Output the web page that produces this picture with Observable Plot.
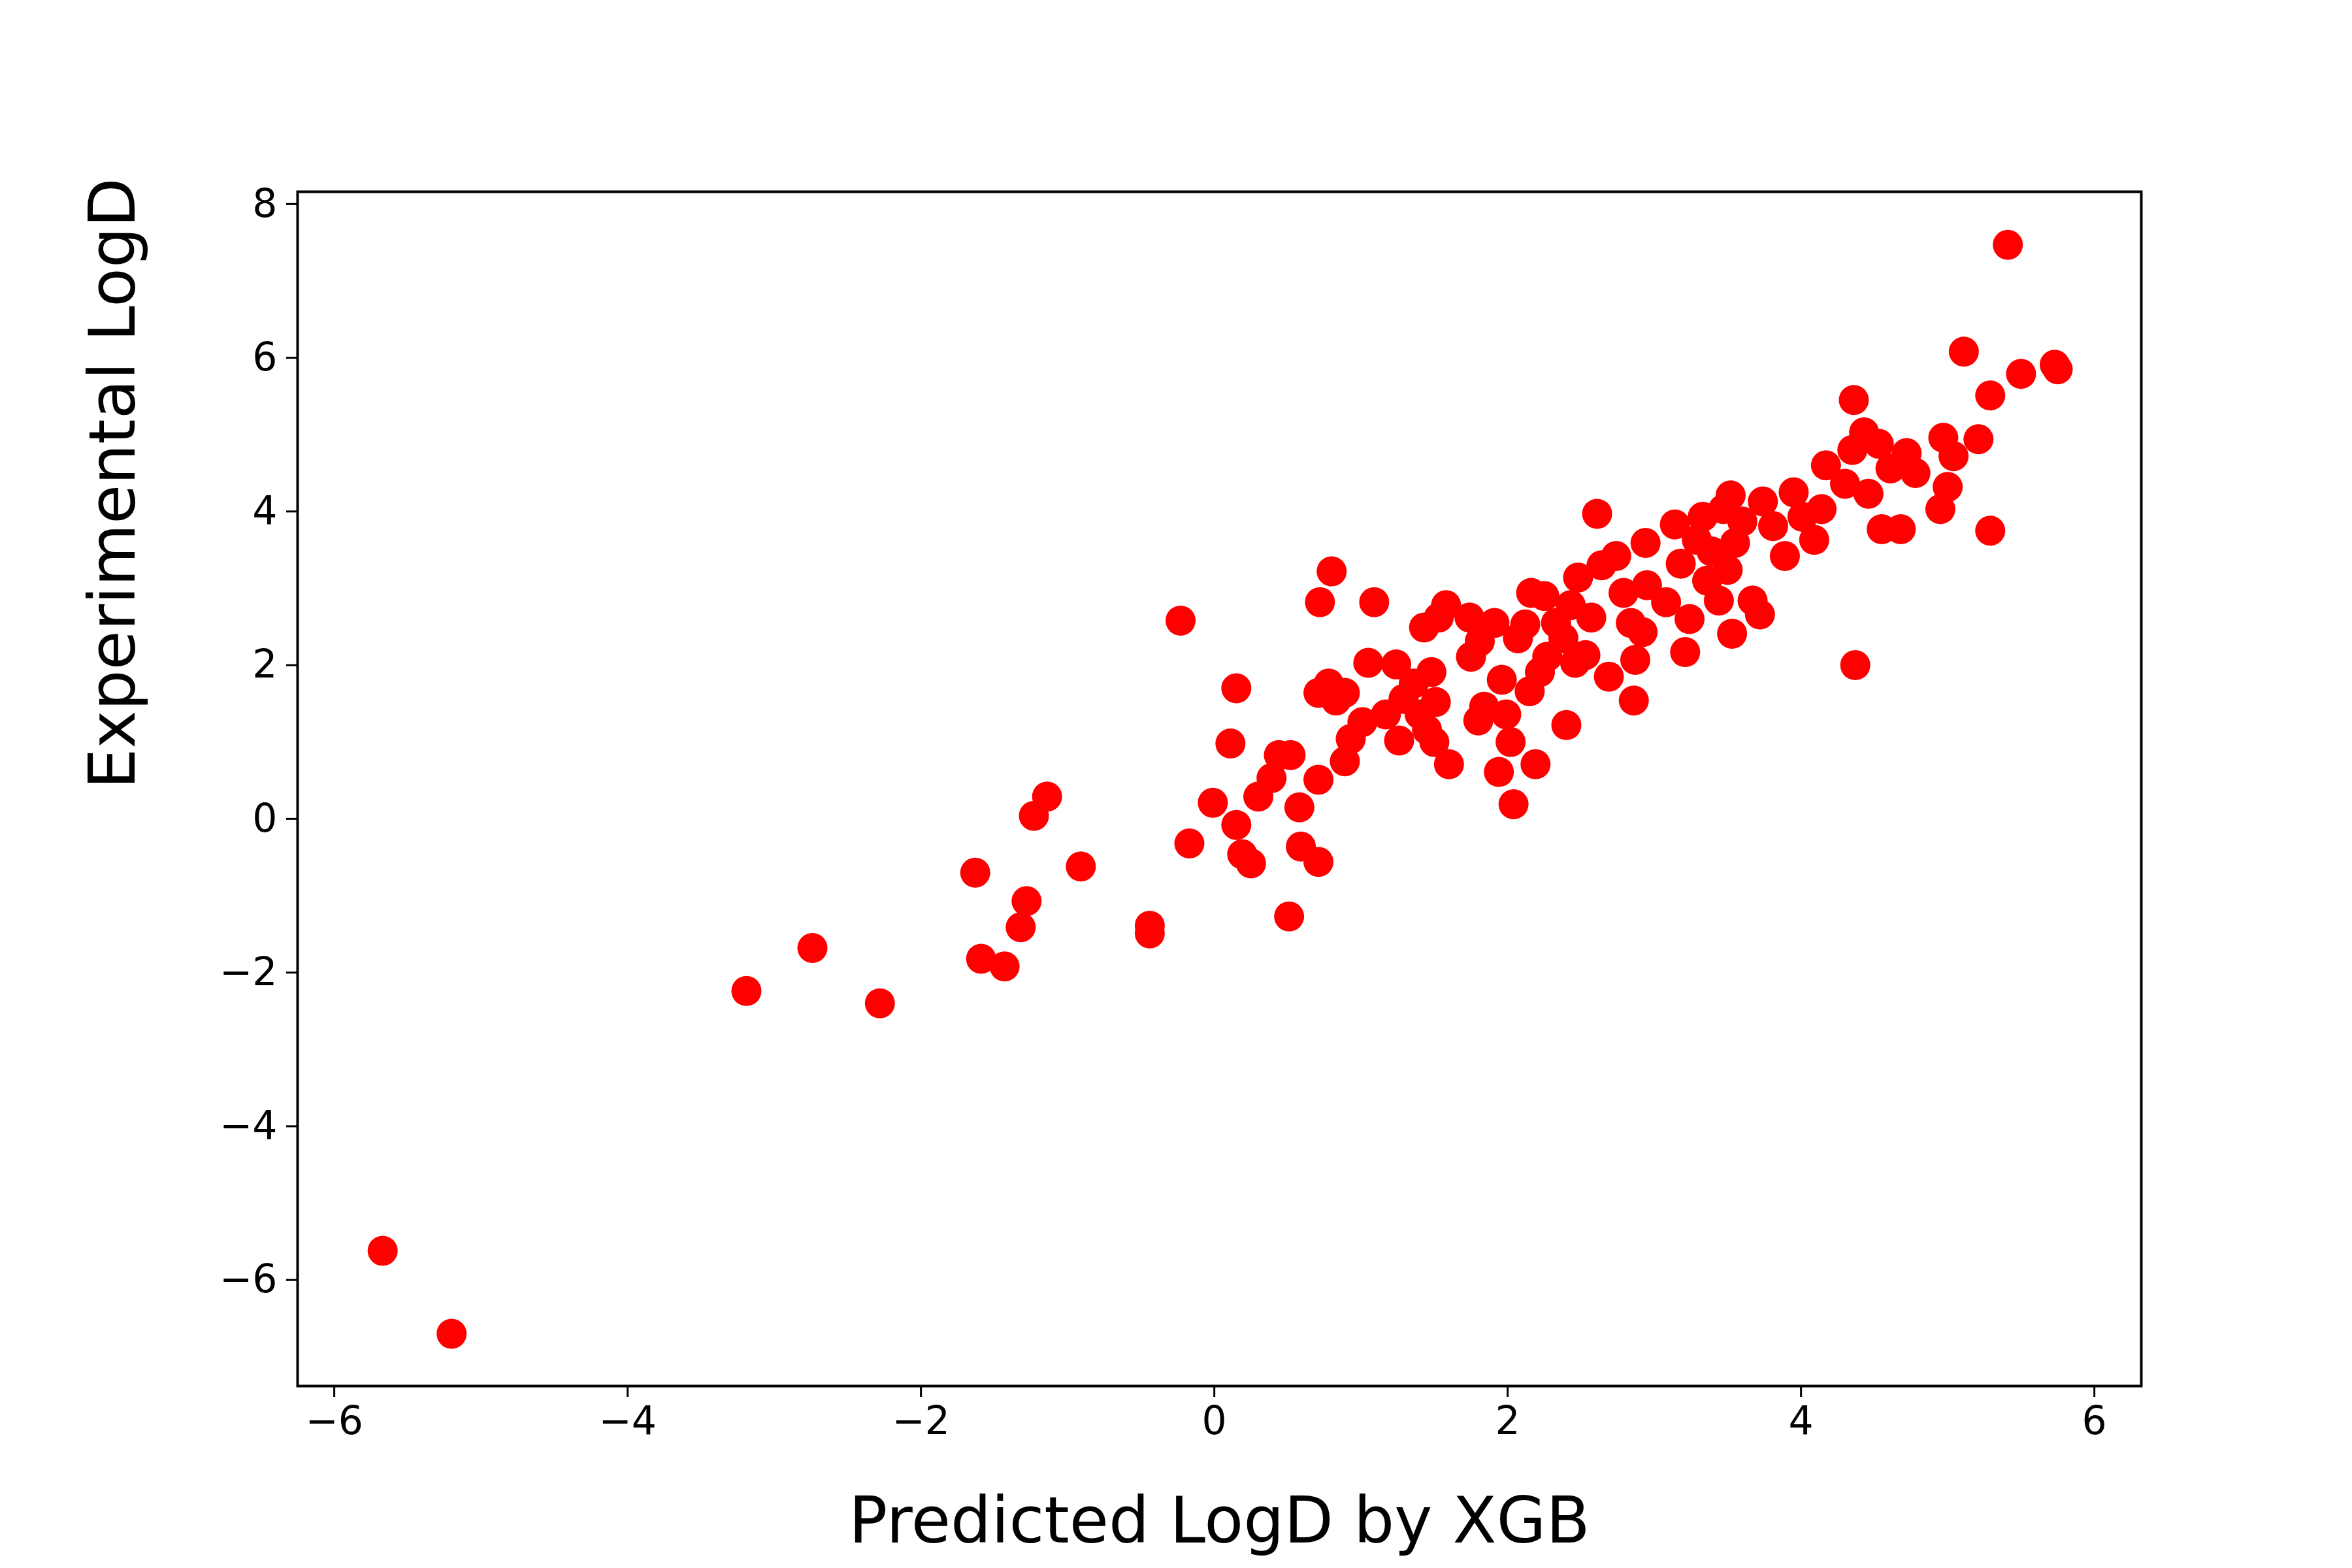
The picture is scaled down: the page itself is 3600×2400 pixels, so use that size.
<!DOCTYPE html>
<html>
<head>
<meta charset="utf-8">
<script src="https://cdn.jsdelivr.net/npm/d3@7"></script>
<script src="https://cdn.jsdelivr.net/npm/@observablehq/plot@0.6"></script>
<style>
  body { margin: 0; background: #fff; }
</style>
</head>
<body>
<div id="chart"></div>
<script>
// predicted (x) vs experimental (y) logD
const predicted = [-5.67,-5.20,-3.19,-2.74,-2.28,-1.63,-1.59,-1.43,-1.28,-1.32,-1.23,-1.14,-0.91,-0.44,-0.44,-0.23,-0.17,-0.01,0.11,0.15,0.15,0.19,0.25,0.30,0.39,0.44,0.52,0.51,0.58,0.59,0.71,0.71,0.72,0.80,0.71,0.78,0.83,0.89,0.89,0.93,1.01,1.05,1.09,1.17,1.24,1.29,1.26,1.36,1.40,1.43,1.45,1.48,1.51,1.50,1.53,1.58,1.60,1.74,1.75,1.81,1.80,1.84,1.91,1.94,1.96,1.99,2.02,2.04,2.07,2.12,2.15,2.16,2.19,2.22,2.25,2.27,2.33,2.38,2.40,2.43,2.46,2.48,2.53,2.57,2.61,2.64,2.69,2.74,2.79,2.84,2.86,2.87,2.92,2.94,2.95,3.08,3.14,3.18,3.21,3.24,3.29,3.33,3.36,3.39,3.44,3.47,3.50,3.52,3.53,3.55,3.60,3.67,3.72,3.74,3.81,3.89,3.95,4.01,4.09,4.14,4.17,4.30,4.35,4.36,4.37,4.43,4.46,4.53,4.55,4.61,4.68,4.72,4.78,4.95,4.97,5.00,5.04,5.11,5.21,5.29,5.29,5.41,5.50,5.73,5.75];
const experimental = [-5.62,-6.70,-2.24,-1.68,-2.40,-0.70,-1.82,-1.92,-1.07,-1.41,0.04,0.29,-0.62,-1.39,-1.49,2.58,-0.32,0.21,0.98,1.70,-0.08,-0.46,-0.58,0.29,0.53,0.83,0.83,-1.27,0.15,-0.36,-0.56,0.51,2.82,3.22,1.64,1.76,1.54,1.64,0.75,1.04,1.26,2.03,2.82,1.36,2.01,1.56,1.02,1.76,1.36,2.49,1.16,1.91,1.52,1.00,2.62,2.78,0.71,2.62,2.11,2.31,1.28,1.46,2.55,0.61,1.81,1.36,1.00,0.19,2.35,2.53,1.66,2.94,0.71,1.91,2.90,2.11,2.55,2.35,1.22,2.78,2.03,3.14,2.13,2.62,3.97,3.30,1.85,3.42,2.94,2.55,1.54,2.07,2.43,3.59,3.04,2.82,3.83,3.32,2.17,2.60,3.63,3.93,3.10,3.48,2.84,4.03,3.24,4.21,2.41,3.59,3.87,2.84,2.66,4.13,3.81,3.42,4.25,3.93,3.63,4.03,4.60,4.36,4.80,5.45,2.00,5.03,4.23,4.88,3.77,4.56,3.77,4.76,4.50,4.03,4.96,4.32,4.72,6.08,4.94,5.51,3.75,7.47,5.79,5.91,5.85];
const xTicks = [-6, -4, -2, 0, 2, 4, 6];
const yTicks = [-6, -4, -2, 0, 2, 4, 6, 8];

const points = predicted.map((x, i) => ({x, y: experimental[i]}));
const minus = d => d < 0 ? "\u2212" + (-d) : String(d);

const plot = Plot.plot({
  width: 3600,
  height: 2400,
  marginLeft: 455,
  marginRight: 323,
  marginTop: 293,
  marginBottom: 279,
  style: {fontFamily: "DejaVu Sans", fontSize: "60px", background: "#fff", color: "#000"},
  x: {domain: [-6.25, 6.32]},
  y: {domain: [-7.38, 8.16]},
  marks: [
    Plot.frame({stroke: "#000", strokeWidth: 4}),
    Plot.axisX(xTicks, {tickSize: 17, tickPadding: 14, tickFormat: minus, strokeWidth: 3, fontSize: 60, label: null}),
    Plot.axisY(yTicks, {tickSize: 17, tickPadding: 14, tickFormat: minus, strokeWidth: 3, fontSize: 60, label: null}),
    Plot.dot(points, {x: "x", y: "y", r: 23, fill: "#ff0000", stroke: null}),
    Plot.text(["Predicted LogD by XGB"], {frameAnchor: "bottom", dy: 208, fontSize: 98, lineAnchor: "middle"}),
    Plot.text(["Experimental LogD"], {frameAnchor: "left", dx: -281, rotate: -90, fontSize: 98, lineAnchor: "middle"})
  ]
});

document.querySelector("#chart").append(plot);
</script>
</body>
</html>
